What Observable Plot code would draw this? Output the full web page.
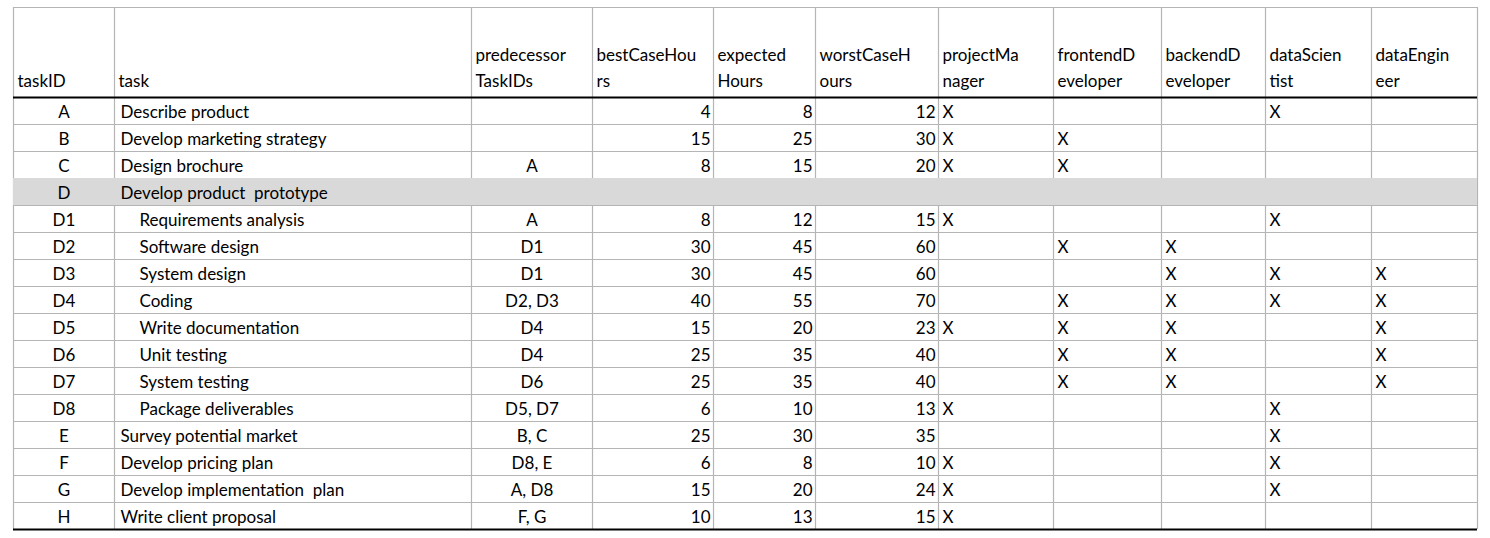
<!DOCTYPE html>
<html><head><meta charset="utf-8">
<script src="https://cdn.jsdelivr.net/npm/d3@7"></script>
<script src="https://cdn.jsdelivr.net/npm/@observablehq/plot@0.6"></script>
<style>body{margin:0;background:#fff}</style>
</head><body><div id="c"></div>
<script>
const headers = [["taskID"],["task"],["predecessor","TaskIDs"],["bestCaseHou","rs"],["expected","Hours"],["worstCaseH","ours"],["projectMa","nager"],["frontendD","eveloper"],["backendD","eveloper"],["dataScien","tist"],["dataEngin","eer"]];
const taskIDs = ["A","B","C","D","D1","D2","D3","D4","D5","D6","D7","D8","E","F","G","H"];
const tasks = ["Describe product","Develop marketing strategy","Design brochure","Develop product  prototype","Requirements analysis","Software design","System design","Coding","Write documentation","Unit testing","System testing","Package deliverables","Survey potential market","Develop pricing plan","Develop implementation  plan","Write client proposal"];
const predecessors = ["","","A","","A","D1","D1","D2, D3","D4","D4","D6","D5, D7","B, C","D8, E","A, D8","F, G"];
const bestCase = [4,15,8,null,8,30,30,40,15,25,25,6,25,6,15,10];
const expected = [8,25,15,null,12,45,45,55,20,35,35,10,30,8,20,13];
const worstCase = [12,30,20,null,15,60,60,70,23,40,40,13,35,10,24,15];
const projectManager = [1,1,1,0,1,0,0,0,1,0,0,1,0,1,1,1];
const frontendDeveloper = [0,1,1,0,0,1,0,1,1,1,1,0,0,0,0,0];
const backendDeveloper = [0,0,0,0,0,1,1,1,1,1,1,0,0,0,0,0];
const dataScientist = [1,0,0,0,1,0,1,1,0,0,0,1,1,1,1,0];
const dataEngineer = [0,0,0,0,0,0,1,1,1,1,1,0,0,0,0,0];
const groupRows = ["D"];
const subtasks = ["D1","D2","D3","D4","D5","D6","D7","D8"];

// layout
const edges = [13,114,471,592,713,815,938,1053,1161,1265,1371,1477];
const tableTop = 7, headBottom = 97, rowH = 27;
const nRows = taskIDs.length, tableBottom = headBottom + rowH*nRows;
const roles = [projectManager, frontendDeveloper, backendDeveloper, dataScientist, dataEngineer];

const cells = [];
taskIDs.forEach((id,i)=>{
  const y = headBottom + rowH*i + 20;
  cells.push({x:(edges[0]+edges[1])/2, y, t:id, a:"middle"});
  cells.push({x:edges[1]+6 + (subtasks.includes(id)?19:0), y, t:tasks[i], a:"start"});
  cells.push({x:(edges[2]+edges[3])/2, y, t:predecessors[i], a:"middle"});
  [bestCase,expected,worstCase].forEach((arr,k)=>{ if(arr[i]!=null) cells.push({x:edges[4+k]-3, y, t:String(arr[i]), a:"end"}); });
  roles.forEach((arr,k)=>{ if(arr[i]) cells.push({x:edges[6+k]+4, y, t:"X", a:"start"}); });
});
const heads = [];
headers.forEach((h,k)=>{
  const lines = h.length===1 ? [null,h[0]] : h;
  lines.forEach((t,j)=>{ if(t) heads.push({x:edges[k]+4, y: j===0?60:86, t}); });
});
const hLines = d3.range(1,nRows).map(i=>headBottom+rowH*i);
const grayRows = taskIDs.map((id,i)=>({id,i})).filter(d=>groupRows.includes(d.id));
const x1 = edges[0], x2 = edges[edges.length-1];

const plot = Plot.plot({
  width:1490, height:538, margin:0,
  x:{type:"linear", domain:[0,1490], range:[0,1490], axis:null},
  y:{type:"linear", domain:[0,538], range:[0,538], axis:null},
  style:{fontFamily:"Lato, sans-serif", fontSize:"17px", background:"#fff"},
  marks:[
    Plot.ruleY(hLines,{x1, x2, y:d=>d, stroke:"#b5b5b5", strokeWidth:1}),
    Plot.ruleX(edges,{x:d=>d, y1:tableTop, y2:tableBottom, stroke:"#b5b5b5", strokeWidth:1.2}),
    Plot.ruleY([tableTop],{x1, x2, y:d=>d, stroke:"#b5b5b5", strokeWidth:1.2}),
    Plot.rect(grayRows,{x1, x2, y1:d=>headBottom+rowH*d.i, y2:d=>headBottom+rowH*(d.i+1), fill:"#d9d9d9"}),
    Plot.ruleY([headBottom,tableBottom],{x1, x2, y:d=>d, stroke:"#000", strokeWidth:2}),
    Plot.text(heads,{x:"x", y:"y", text:"t", textAnchor:"start", lineAnchor:"bottom", fill:"#000"}),
    ...["start","middle","end"].map(a => Plot.text(cells.filter(c=>c.a===a),{x:"x", y:"y", text:"t", textAnchor:a, lineAnchor:"bottom", fill:"#000"}))
  ]
});
document.getElementById("c").appendChild(plot);
</script></body></html>
